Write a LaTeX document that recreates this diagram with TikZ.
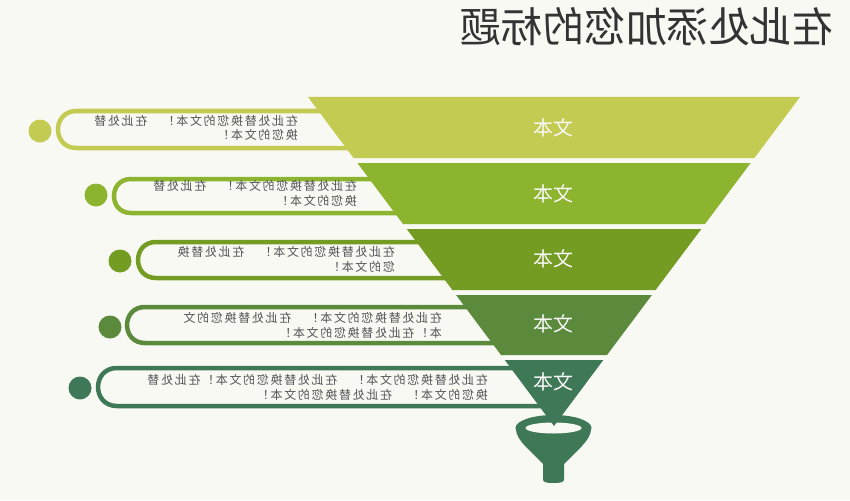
\documentclass[tikz,border=0pt]{standalone}
\usepackage{fontspec}
\usepackage{graphicx}
\setmainfont{Noto Sans CJK SC}
\newfontfamily\cjkside[LetterSpace=14]{Noto Sans CJK SC}
\definecolor{bgc}{HTML}{F9F9F4}
\definecolor{cA}{HTML}{C3CB52}
\definecolor{cB}{HTML}{8DB42F}
\definecolor{cC}{HTML}{749B22}
\definecolor{cD}{HTML}{5B8A3C}
\definecolor{cE}{HTML}{3F7857}
\definecolor{txtc}{HTML}{555555}
\definecolor{titc}{HTML}{333333}
\tikzset{
  bracket/.style={line width=4.5pt},
  dot/.style={circle, minimum size=23pt, inner sep=0pt},
  sidetext/.style={anchor=east, inner sep=0pt, text=txtc, font=\cjkside\fontsize{12}{14.5}\selectfont},
  bandtext/.style={text=white!95!gray, font=\fontsize{20}{22}\selectfont, inner sep=0pt},
  band/.style={draw=none}
}
\begin{document}
\begin{tikzpicture}[x=1pt,y=-1pt]
\fill[bgc] (0,0) rectangle (850,500);
\useasboundingbox (0,0) rectangle (850,500);
% title
\node[text=titc, font=\fontsize{41.5}{44}\selectfont, inner sep=0pt] (title) at (646.5,27) {\reflectbox{在此处添加您的标题}};
% brackets (behind bands)
\draw[bracket, cA] (554,111) -- (76.5,111) .. controls (51.8,111) and (51.8,148) .. (76.5,148) -- (554,148);
\draw[bracket, cB] (554,179) -- (131,179) .. controls (108.3,179) and (108.3,213) .. (131,213) -- (554,213);
\draw[bracket, cC] (554,242) -- (156,242) .. controls (132,242) and (132,278) .. (156,278) -- (554,278);
\draw[bracket, cD] (554,307) -- (145,307) .. controls (121,307) and (121,343) .. (145,343) -- (554,343);
\draw[bracket, cE] (554,368) -- (117,368) .. controls (91.7,368) and (91.7,406) .. (117,406) -- (554,406);
% dots
\node[dot, fill=cA] (d1) at (40,131) {};
\node[dot, fill=cB] (d2) at (96,195) {};
\node[dot, fill=cC] (d3) at (120,261) {};
\node[dot, fill=cD] (d4) at (110,327) {};
\node[dot, fill=cE] (d5) at (80,388) {};
% funnel
\fill[cE] (516,428) .. controls (516,436) and (520,440) .. (525,446)
  -- (543,464) -- (543,479) .. controls (543,482) and (545,483) .. (553.5,483)
  .. controls (562,483) and (564,482) .. (564,479) -- (564,464) -- (582,446)
  .. controls (587,440) and (591,436) .. (591,428) -- cycle;
\fill[cE] (553.5,428) ellipse [x radius=38, y radius=13];
\fill[bgc] (553.5,428) ellipse [x radius=28, y radius=5.5];
% bands
\fill[band, cA] (308,97) -- (800,97) -- (754.4,158) -- (353.6,158) -- cycle;
\fill[band, cB] (357.4,163) -- (750.6,163) -- (705,224) -- (403,224) -- cycle;
\fill[band, cC] (406.7,229) -- (701.3,229) -- (655.6,290) -- (452.4,290) -- cycle;
\fill[band, cD] (456.1,295) -- (651.9,295) -- (607,355) -- (501,355) -- cycle;
\fill[band, cE] (504.7,360) -- (603.3,360) -- (554,426) -- cycle;
\node[bandtext] (b1) at (553,128) {\reflectbox{文本}};
\node[bandtext] (b2) at (553,194) {\reflectbox{文本}};
\node[bandtext] (b3) at (553,259) {\reflectbox{文本}};
\node[bandtext] (b4) at (553,324) {\reflectbox{文本}};
\node[bandtext] (b5) at (553,382) {\reflectbox{文本}};
% side texts
\node[sidetext] (t1) at (298,129.5) {\reflectbox{\begin{tabular}{@{}l@{}}在此处替换您的文本！　在此处替\\换您的文本！\end{tabular}}};
\node[sidetext] (t2) at (357,195) {\reflectbox{\begin{tabular}{@{}l@{}}在此处替换您的文本！　在此处替\\换您的文本！\end{tabular}}};
\node[sidetext] (t3) at (395,261) {\reflectbox{\begin{tabular}{@{}l@{}}在此处替换您的文本！　在此处替换\\您的文本！\end{tabular}}};
\node[sidetext] (t4) at (442,327) {\reflectbox{\begin{tabular}{@{}l@{}}在此处替换您的文本！　在此处替换您的文\\本！在此处替换您的文本！\end{tabular}}};
\node[sidetext] (t5) at (488,389) {\reflectbox{\begin{tabular}{@{}l@{}}在此处替换您的文本！　在此处替换您的文本！在此处替\\换您的文本！　在此处替换您的文本！\end{tabular}}};
\end{tikzpicture}
\end{document}
